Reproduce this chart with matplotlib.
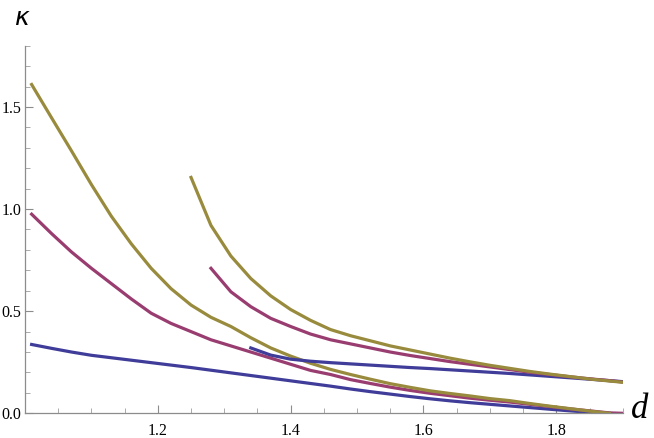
import matplotlib
matplotlib.use("Agg")
import matplotlib.pyplot as plt
from matplotlib.ticker import MultipleLocator

# sample points in d (step 0.03, last point at the plot edge)
d_a = [1.01, 1.04, 1.07, 1.10, 1.13, 1.16, 1.19, 1.22, 1.25, 1.28,
       1.31, 1.34, 1.37, 1.40, 1.43, 1.46, 1.49, 1.52, 1.55, 1.58,
       1.61, 1.64, 1.67, 1.70, 1.73, 1.76, 1.79, 1.82, 1.85, 1.88]

gold_a = [1.61, 1.447, 1.285, 1.12, 0.965, 0.83, 0.71, 0.61, 0.53, 0.47,
          0.425, 0.37, 0.32, 0.28, 0.245, 0.215, 0.19, 0.167, 0.145, 0.127,
          0.11, 0.097, 0.085, 0.072, 0.062, 0.048, 0.035, 0.023, 0.011, 0.0]
magenta_a = [0.975, 0.88, 0.79, 0.71, 0.635, 0.56, 0.49, 0.44, 0.40, 0.36,
             0.33, 0.30, 0.27, 0.24, 0.21, 0.19, 0.165, 0.146, 0.128, 0.112,
             0.098, 0.086, 0.074, 0.064, 0.055, 0.044, 0.033, 0.022, 0.012, 0.002]
blue_a = [0.337, 0.318, 0.300, 0.284, 0.272, 0.260, 0.248, 0.236, 0.224, 0.211,
          0.198, 0.185, 0.172, 0.159, 0.146, 0.133, 0.119, 0.106, 0.094, 0.082,
          0.071, 0.061, 0.052, 0.044, 0.036, 0.028, 0.020, 0.012, 0.005, 0.0]

d_gold_b = [1.25, 1.28, 1.31, 1.34, 1.37, 1.40, 1.43, 1.46, 1.49, 1.52,
            1.55, 1.58, 1.61, 1.64, 1.67, 1.70, 1.73, 1.76, 1.79, 1.82,
            1.85, 1.88, 1.90]
gold_b = [1.155, 0.92, 0.77, 0.66, 0.575, 0.508, 0.455, 0.41, 0.38, 0.355,
          0.33, 0.31, 0.29, 0.27, 0.252, 0.235, 0.22, 0.205, 0.192, 0.18,
          0.168, 0.158, 0.152]

d_magenta_b = d_gold_b[1:]
magenta_b = [0.71, 0.595, 0.522, 0.465, 0.425, 0.388, 0.36, 0.34, 0.32,
             0.30, 0.283, 0.268, 0.253, 0.24, 0.227, 0.214, 0.201, 0.19, 0.179,
             0.169, 0.16, 0.153]

d_blue_b = d_gold_b[3:]
blue_b = [0.32, 0.285, 0.265, 0.255, 0.248, 0.242, 0.236, 0.23, 0.224,
          0.219, 0.213, 0.207, 0.201, 0.195, 0.188, 0.181, 0.174, 0.167, 0.160,
          0.155]

BLUE = "#3f3d99"
MAGENTA = "#993d71"
GOLD = "#998b3d"

fig = plt.figure(figsize=(6.54, 4.38), dpi=100)
ax = fig.add_axes([0.0382, 0.0564, 0.914, 0.8393])

lw = 2.3
ax.plot(d_a, blue_a, color=BLUE, lw=lw)
ax.plot(d_a + [1.90], magenta_a + [0.0], color=MAGENTA, lw=lw)
ax.plot(d_a, gold_a, color=GOLD, lw=lw)
ax.plot(d_blue_b, blue_b, color=BLUE, lw=lw)
ax.plot(d_magenta_b, magenta_b, color=MAGENTA, lw=lw)
ax.plot(d_gold_b, gold_b, color=GOLD, lw=lw)

ax.set_xlim(1.0, 1.9)
ax.set_ylim(0, 1.8)

for s in ["top", "right"]:
    ax.spines[s].set_visible(False)
for s in ["left", "bottom"]:
    ax.spines[s].set_color("#8c8c8c")
    ax.spines[s].set_linewidth(0.9)

ax.set_xticks([1.2, 1.4, 1.6, 1.8])
ax.set_yticks([0.0, 0.5, 1.0, 1.5])
ax.set_xticklabels(["1.2", "1.4", "1.6", "1.8"])
ax.set_yticklabels(["0.0", "0.5", "1.0", "1.5"])
ax.xaxis.set_minor_locator(MultipleLocator(0.05))
ax.yaxis.set_minor_locator(MultipleLocator(0.1))
ax.tick_params(which="major", direction="in", length=6, width=0.8,
               color="#8c8c8c", labelsize=11.5)
ax.tick_params(axis="x", which="major", pad=7)
ax.tick_params(axis="y", which="major", pad=2.5)
ax.tick_params(which="minor", direction="in", length=3.5, width=0.6,
               color="#9c9c9c")
for lab in ax.get_xticklabels() + ax.get_yticklabels():
    lab.set_family("Liberation Serif")

fig.text(22 / 654, 1 - 18 / 438, "\u03ba", fontsize=18, style="italic",
         family="DejaVu Sans", ha="center", va="center")
fig.text(640 / 654, 1 - 410 / 438, "d", fontsize=25, style="italic",
         family="Liberation Serif", ha="center", va="center")

fig.savefig("out.png", dpi=100)
